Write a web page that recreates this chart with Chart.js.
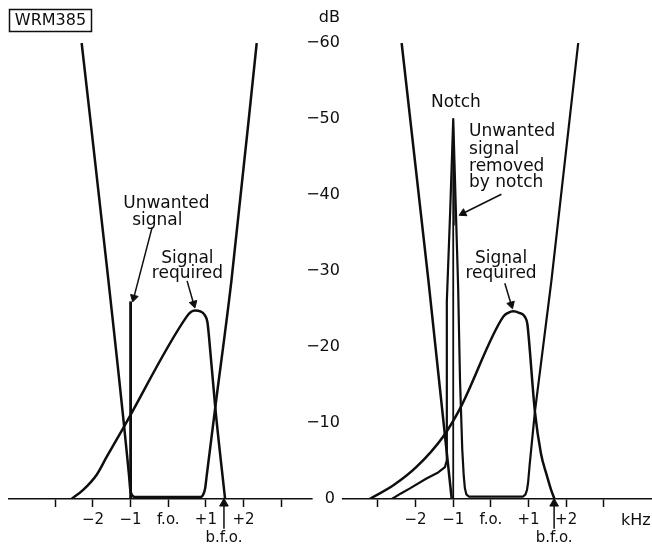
<!DOCTYPE html>
<html>
<head>
<meta charset="utf-8">
<title>WRM385</title>
<script src="https://cdn.jsdelivr.net/npm/chart.js@4.4.1/dist/chart.umd.min.js"></script>
<style>
  html, body { margin: 0; padding: 0; background: #fff; }
  canvas { display: block; }
</style>
</head>
<body>
<canvas id="notchChart" width="652" height="545"></canvas>
<script>
// Tick marks along each frequency axis (kHz from f.o.)
const tickKHz = [-3, -2, -1, 0, 1, 2, 3];
const tickNames = ['', '\u22122', '\u22121', 'f.o.', '+1', '+2', ''];
// Attenuation ticks, shown as -dB
const dbTicks = [0, 10, 20, 30, 40, 50, 60];

// b.f.o. in each panel, kHz
const bfoLeft = 1.48;
const bfoRight = 1.68;

// Left panel, [kHz, dB]
const filterLeft = [[-2.30, 60], [-1.59, 28.8], [-1.04, 3], [-1.01, 1.3], [-0.96, 0.5], [-0.88, 0.25],
  [0.85, 0.25], [0.93, 0.6], [0.98, 1.4], [1.02, 3], [1.25, 12.1], [1.68, 28.8], [2.35, 60]];
const unwantedLeft = [[-1, 0], [-1, 26]];
const signalLeft = [[-2.57, 0], [-2.26, 1.2], [-1.90, 3.2], [-1.64, 5.5], [-1.20, 9.3], [0.49, 24],
  [0.60, 24.6], [0.71, 24.8], [0.85, 24.7], [0.97, 24.2], [1.04, 23.3], [1.08, 21.5], [1.25, 12], [1.51, 0]];

// Right panel, [kHz, dB]
const skirtRight = [[-2.37, 60], [-1.66, 28.8], [-1.04, 0]];
const notchRight = [[-2.63, 0], [-2.40, 0.7], [-2.15, 1.4], [-1.71, 2.7], [-1.40, 3.5], [-1.22, 4.2],
  [-1.175, 5.0], [-1.172, 15], [-1.168, 26], [-1.08, 38], [-1.0, 50], [-0.93, 38], [-0.87, 28],
  [-0.82, 15.7], [-0.76, 6.5], [-0.72, 3.0], [-0.69, 1.4], [-0.65, 0.6], [-0.58, 0.3], [0.85, 0.3],
  [0.92, 0.6], [0.96, 1.2], [0.99, 2.2], [1.03, 4.5], [1.17, 11.5], [1.61, 28.8], [2.32, 60]];
const unwantedRight = [[-1, 0], [-1, 49]];
const removedRight = [[-1.0, 47], [-0.935, 38.5], [-0.955, 36], [-1.0, 36]];
const signalRight = [[-3.22, 0], [-2.59, 1.8], [-1.97, 4.25], [-1.27, 8.2], [-0.82, 11.9], [0.33, 24],
  [0.46, 24.5], [0.59, 24.7], [0.75, 24.5], [0.90, 24], [0.97, 23], [1.01, 21], [1.17, 11.5],
  [1.33, 6], [1.48, 3.2], [1.60, 1.2], [1.69, 0]];

// layout of the shared x axis: right panel is moved along by PANEL_SHIFT
const PANEL_SHIFT = 8.57;
const AXIS_MIN = -4.23;
const AXIS_MAX = 12.85;
const DB_AXIS_AT = 4.56;
const KHZ_AT = PANEL_SHIFT + 3.85;

const INK = '#0e0e0e';
const FONT = '"DejaVu Sans", sans-serif';

// annotation text: [shift, kHz, dB, text, align]
const notes = [
  [0, -0.05, 38.9, 'Unwanted', 'center'],
  [0, -0.29, 36.6, 'signal', 'center'],
  [0, 0.51, 31.7, 'Signal', 'center'],
  [0, 0.51, 29.6, 'required', 'center'],
  [PANEL_SHIFT, -0.93, 52.1, 'Notch', 'center'],
  [PANEL_SHIFT, -0.58, 48.3, 'Unwanted', 'left'],
  [PANEL_SHIFT, -0.58, 46.0, 'signal', 'left'],
  [PANEL_SHIFT, -0.58, 43.8, 'removed', 'left'],
  [PANEL_SHIFT, -0.58, 41.6, 'by notch', 'left'],
  [PANEL_SHIFT, 0.27, 31.7, 'Signal', 'center'],
  [PANEL_SHIFT, 0.27, 29.6, 'required', 'center']
];

// pointer arrows: [shift, from, to]
const pointers = [
  [0, [-0.43, 35.7], [-0.915, 26.5]],
  [0, [0.50, 28.7], [0.675, 25.7]],
  [PANEL_SHIFT, [0.28, 40.1], [-0.736, 37.6]],
  [PANEL_SHIFT, [0.37, 28.4], [0.54, 25.6]]
];

const axisTicks = [];
[0, PANEL_SHIFT].forEach(shift => {
  tickKHz.forEach((k, i) => axisTicks.push({ value: k + shift, label: tickNames[i], mark: true }));
});
axisTicks.push({ value: bfoLeft, label: ['', 'b.f.o.'], mark: false });
axisTicks.push({ value: bfoRight + PANEL_SHIFT, label: ['', 'b.f.o.'], mark: false });
axisTicks.push({ value: KHZ_AT, label: 'kHz', mark: false });
axisTicks.sort((a, b) => a.value - b.value);

function toXY(points, shift) {
  return points.map(([k, db]) => ({ x: k + shift, y: db }));
}

function curve(points, shift, width, smooth) {
  return {
    data: toXY(points, shift),
    borderColor: INK,
    borderWidth: width,
    borderJoinStyle: 'round',
    pointRadius: 0,
    tension: smooth ? 0.4 : 0,
    cubicInterpolationMode: smooth ? 'monotone' : 'default',
    fill: false
  };
}

// rotate the arrow head along the last segment
function headAngle(ctx) {
  const d = ctx.dataset.data;
  const s = ctx.chart.scales;
  const a = d[d.length - 2], b = d[d.length - 1];
  const dx = s.x.getPixelForValue(b.x) - s.x.getPixelForValue(a.x);
  const dy = s.y.getPixelForValue(b.y) - s.y.getPixelForValue(a.y);
  return Math.atan2(dx, -dy) * 180 / Math.PI;
}

function arrow(points, shift, width, head) {
  return {
    data: toXY(points, shift),
    borderColor: INK,
    borderWidth: width,
    pointRadius: [0, head],
    pointStyle: 'triangle',
    pointRotation: headAngle,
    pointBackgroundColor: INK,
    pointBorderColor: INK,
    pointBorderWidth: 1,
    tension: 0,
    fill: false,
    clip: false
  };
}

const datasets = [
  curve(filterLeft, 0, 2.5, true),
  curve(unwantedLeft, 0, 2.8, false),
  curve(signalLeft, 0, 2.5, true),
  curve(skirtRight, PANEL_SHIFT, 2.5, false),
  curve(notchRight, PANEL_SHIFT, 2.2, false),
  curve(unwantedRight, PANEL_SHIFT, 1.8, false),
  curve(signalRight, PANEL_SHIFT, 2.5, true),
  {
    data: toXY(removedRight, PANEL_SHIFT),
    borderWidth: 0,
    backgroundColor: 'rgba(20,20,20,0.75)',
    pointRadius: 0,
    tension: 0,
    fill: 'shape'
  },
  arrow([[bfoLeft, -3.9], [bfoLeft, -0.6]], 0, 1.5, 5),
  arrow([[bfoRight, -3.9], [bfoRight, -0.6]], PANEL_SHIFT, 1.5, 5)
];
pointers.forEach(([shift, from, to]) => datasets.push(arrow([from, to], shift, 1.5, 4.5)));

const textLayer = {
  id: 'textLayer',
  afterDraw(chart) {
    const { ctx, scales: { x, y } } = chart;
    ctx.save();
    ctx.fillStyle = INK;
    ctx.strokeStyle = INK;
    ctx.textBaseline = 'middle';
    ctx.font = '17px ' + FONT;
    notes.forEach(([shift, k, db, text, align]) => {
      ctx.textAlign = align;
      ctx.fillText(text, x.getPixelForValue(k + shift), y.getPixelForValue(db));
    });

    // unit over the dB scale
    ctx.font = '16px ' + FONT;
    ctx.textAlign = 'right';
    ctx.fillText('dB', x.getPixelForValue(DB_AXIS_AT), y.getPixelForValue(60) - 25);

    // figure reference box
    ctx.lineWidth = 1.5;
    ctx.strokeRect(9.5, 9.5, 82, 22);
    ctx.textAlign = 'center';
    ctx.fillText('WRM385', 50.5, 21);
    ctx.restore();
  }
};

new Chart(document.getElementById('notchChart'), {
  type: 'line',
  data: { datasets },
  options: {
    responsive: false,
    animation: false,
    events: [],
    layout: { autoPadding: false, padding: { left: 9, right: 0, top: 43, bottom: 0 } },
    plugins: { legend: { display: false }, tooltip: { enabled: false } },
    scales: {
      x: {
        type: 'linear',
        min: AXIS_MIN,
        max: AXIS_MAX,
        border: { display: true, color: INK, width: 1.5 },
        grid: {
          drawOnChartArea: false,
          drawTicks: true,
          tickLength: 8,
          tickWidth: 1.5,
          tickColor: ctx => (axisTicks[ctx.index] && axisTicks[ctx.index].mark) ? INK : 'rgba(0,0,0,0)'
        },
        afterBuildTicks: scale => { scale.ticks = axisTicks.map(t => ({ value: t.value })); },
        afterFit: scale => {
          scale.height = 46;
          // the end labels sit well inside the plot, no extra room needed
          scale.paddingLeft = 0;
          scale.paddingRight = 0;
        },
        ticks: {
          autoSkip: false,
          maxRotation: 0,
          padding: 4,
          color: INK,
          font: ctx => ({ family: FONT, size: (axisTicks[ctx.index] && axisTicks[ctx.index].label === 'kHz') ? 16 : 15 }),
          callback: (v, i) => axisTicks[i].label
        }
      },
      y: {
        type: 'linear',
        min: 0,
        max: 60,
        position: { x: DB_AXIS_AT },
        z: 1,
        border: { display: false },
        grid: { display: false, drawTicks: false },
        afterBuildTicks: scale => { scale.ticks = dbTicks.map(v => ({ value: v })); },
        ticks: {
          padding: 0,
          color: INK,
          font: { family: FONT, size: 16 },
          callback: v => v === 0 ? '0\u2008' : '\u2212' + v,
          showLabelBackdrop: true,
          backdropColor: '#fff',
          backdropPadding: { left: 12, right: 2, top: 1, bottom: 1 }
        }
      }
    }
  },
  plugins: [textLayer]
});
</script>
</body>
</html>
